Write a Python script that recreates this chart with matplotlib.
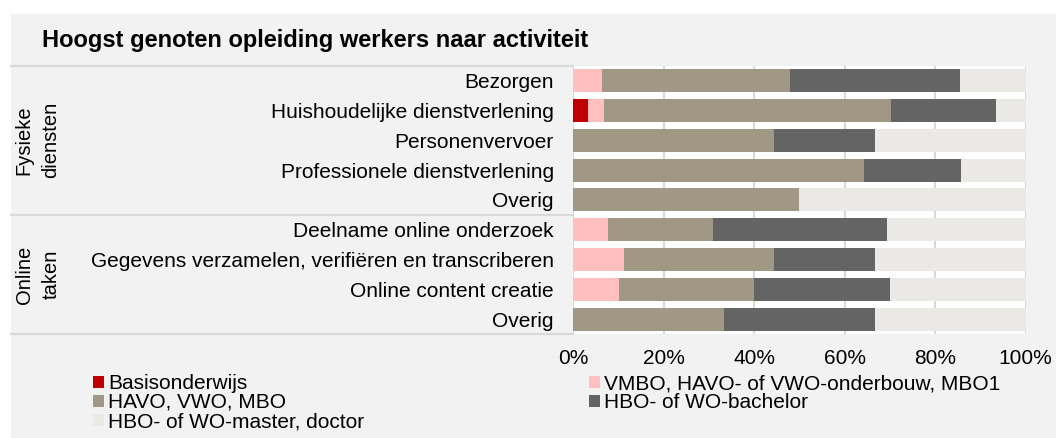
import numpy as np
import matplotlib
matplotlib.use("Agg")
import matplotlib.pyplot as plt
from matplotlib.patches import Rectangle

plt.rcParams['font.family'] = ['Liberation Sans', 'DejaVu Sans']

# activiteiten (van boven naar beneden)
activiteiten = [
    "Bezorgen",
    "Huishoudelijke dienstverlening",
    "Personenvervoer",
    "Professionele dienstverlening",
    "Overig",
    "Deelname online onderzoek",
    "Gegevens verzamelen, verifiëren en transcriberen",
    "Online content creatie",
    "Overig",
]
groepen = ["Fysieke\ndiensten", "Online\ntaken"]
groep_grootte = [5, 4]

# percentages per opleidingsniveau
basisonderwijs = [0, 3.3, 0, 0, 0, 0, 0, 0, 0]
vmbo = [6.3, 3.4, 0, 0, 0, 7.7, 11.1, 10.0, 0]
havo_vwo_mbo = [41.7, 63.5, 44.4, 64.3, 50.0, 23.1, 33.3, 30.0, 33.3]
hbo_bachelor = [37.5, 23.3, 22.2, 21.4, 0, 38.5, 22.2, 30.0, 33.3]
hbo_master = [14.5, 6.5, 33.4, 14.3, 50.0, 30.7, 33.4, 30.0, 33.4]

niveaus = [
    "Basisonderwijs",
    "VMBO, HAVO- of VWO-onderbouw, MBO1",
    "HAVO, VWO, MBO",
    "HBO- of WO-bachelor",
    "HBO- of WO-master, doctor",
]
kleuren = ["#c00000", "#ffbfbf", "#a09884", "#646464", "#ebe9e5"]
xticks = [0, 20, 40, 60, 80, 100]

FS = 15
W, H = 1056, 438
fig = plt.figure(figsize=(W / 100, H / 100), dpi=100, facecolor="white")
fig.patches.append(Rectangle((11 / W, 0), 1, 1 - 14 / H, transform=fig.transFigure,
                             facecolor="#f2f2f2", edgecolor="none", zorder=-10))

ax = fig.add_axes([573.3 / W, 1 - 334.0 / H, 452.4 / W, 268.3 / H])
ax.set_facecolor("white")

y = np.arange(len(activiteiten))
series = [basisonderwijs, vmbo, havo_vwo_mbo, hbo_bachelor, hbo_master]
left = np.zeros(len(activiteiten))
handles = []
for vals, kleur, naam in zip(series, kleuren, niveaus):
    vals = np.array(vals, dtype=float)
    b = ax.barh(y, vals, left=left, height=0.77, color=kleur, label=naam, zorder=3)
    handles.append(b)
    left += vals

ax.set_xlim(0, 100)
ax.set_ylim(len(activiteiten) - 0.5, -0.5)
ax.set_xticks(xticks)
ax.set_xticklabels([f"{t}%" for t in xticks])
ax.set_yticks(y)
ax.set_yticklabels(activiteiten)
ax.tick_params(axis="both", length=0, labelsize=FS, colors="black")
ax.tick_params(axis="y", pad=14)
ax.tick_params(axis="x", pad=10.5)
for s in ax.spines.values():
    s.set_visible(False)
ax.grid(axis="x", color="#d9d9d9", linewidth=1.5, zorder=0)
ax.axvline(0, color="#d9d9d9", linewidth=1.5, zorder=0)
ax.axvline(100, color="#d9d9d9", linewidth=1.5, zorder=0)

# scheidingslijnen en groepslabels links
x_links = (11 - 573.3) / 452.4
x_groep = (37.5 - 573.3) / 452.4
trans = ax.get_yaxis_transform()
grens = -0.5
ax.plot([x_links, 0], [grens, grens], transform=trans, color="#d9d9d9", lw=1.5, clip_on=False)
for naam, n in zip(groepen, groep_grootte):
    midden = grens + n / 2
    ax.text(x_groep, midden, naam, transform=trans, rotation=90, ha="center", va="center",
            fontsize=14.5, linespacing=1.5)
    grens += n
    ax.plot([x_links, 0], [grens, grens], transform=trans, color="#d9d9d9", lw=1.5, clip_on=False)

fig.text(42 / W, 1 - 46.5 / H, "Hoogst genoten opleiding werkers naar activiteit",
         fontsize=17, fontweight="bold", va="baseline", ha="left")

# legenda rij voor rij: kolom 1 = 0, 2, 4 ; kolom 2 = 1, 3
volgorde = [0, 2, 4, 1, 3]
fig.legend([handles[i] for i in volgorde], [niveaus[i] for i in volgorde],
           loc="upper left", bbox_to_anchor=(93.3 / W, 1 - 374 / H), ncol=2,
           frameon=False, fontsize=FS, borderpad=0, borderaxespad=0,
           handlelength=0.52, handleheight=0.52, handletextpad=0.2,
           labelspacing=0.0, columnspacing=10.8)

fig.savefig("out.png", dpi=100, facecolor=fig.get_facecolor())
